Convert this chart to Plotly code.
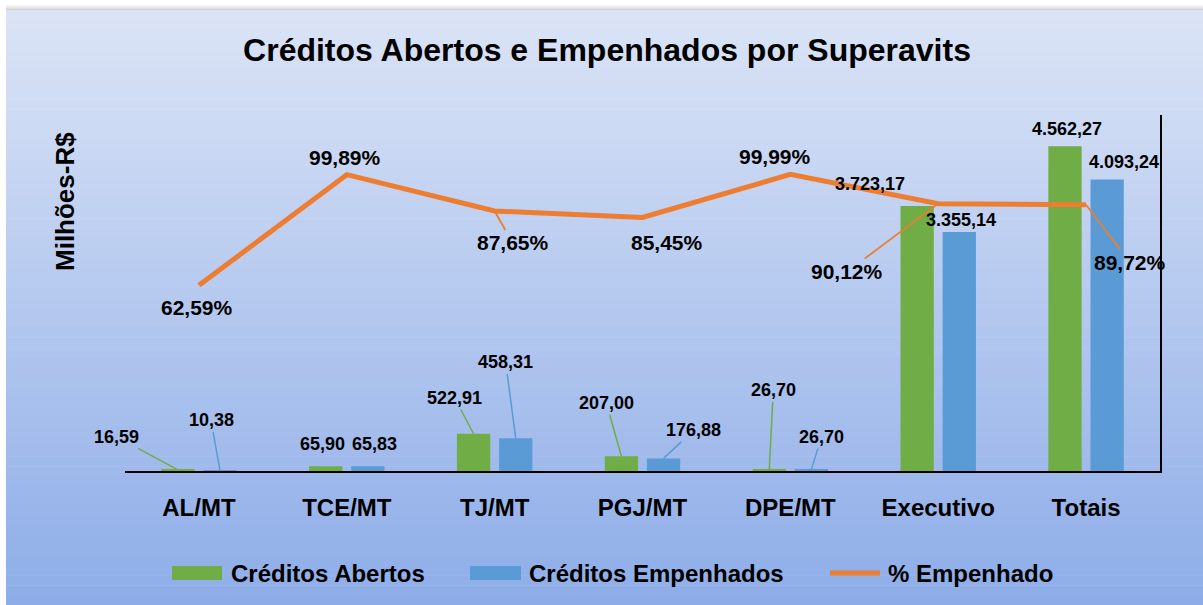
import plotly.graph_objects as go

categories = ["AL/MT", "TCE/MT", "TJ/MT", "PGJ/MT", "DPE/MT", "Executivo", "Totais"]
creditos_abertos = [16.59, 65.90, 522.91, 207.00, 26.70, 3723.17, 4562.27]
creditos_empenhados = [10.38, 65.83, 458.31, 176.88, 26.70, 3355.14, 4093.24]
pct_empenhado = [62.59, 99.89, 87.65, 85.45, 99.99, 90.12, 89.72]

lbl_abertos = ["16,59", "65,90", "522,91", "207,00", "26,70", "3.723,17", "4.562,27"]
lbl_empenhados = ["10,38", "65,83", "458,31", "176,88", "26,70", "3.355,14", "4.093,24"]
lbl_pct = ["62,59%", "99,89%", "87,65%", "85,45%", "99,99%", "90,12%", "89,72%"]

series_names = ["Créditos Abertos", "Créditos Empenhados", "% Empenhado"]

GREEN = "#70AD47"
BLUE = "#5B9BD5"
ORANGE = "#ED7D31"
FONT = "Liberation Sans, Arial, sans-serif"

W, H = 1203, 605
def px(x):
    return x / W
def py(y):
    return 1 - y / H

fig = go.Figure()
fig.add_trace(go.Bar(name=series_names[0], x=categories, y=creditos_abertos,
                     marker=dict(color=GREEN, line=dict(width=0)), showlegend=False))
fig.add_trace(go.Bar(name=series_names[1], x=categories, y=creditos_empenhados,
                     marker=dict(color=BLUE, line=dict(width=0)), showlegend=False))
fig.add_trace(go.Scatter(name=series_names[2], x=categories, y=pct_empenhado, yaxis="y2",
                         mode="lines", line=dict(color=ORANGE, width=5), showlegend=False))

# background gradient
shapes = []
top = (219, 228, 246)
bot = (142, 173, 232)
n = 60
y0p, y1p = 10, 605
for i in range(n):
    t = i / (n - 1)
    c = tuple(int(round(top[k] + (bot[k] - top[k]) * t)) for k in range(3))
    ya = y0p + (y1p - y0p) * i / n
    yb = y0p + (y1p - y0p) * (i + 1) / n + 0.6
    shapes.append(dict(type="rect", xref="paper", yref="paper", x0=px(6), x1=1,
                       y0=py(yb), y1=py(ya), fillcolor="rgb(%d,%d,%d)" % c,
                       line=dict(width=0), layer="below"))
# top shadow
for i, g in enumerate([252, 246, 240, 232, 222, 210]):
    shapes.append(dict(type="rect", xref="paper", yref="paper", x0=px(6), x1=1,
                       y0=py(4 + i + 1), y1=py(4 + i), fillcolor="rgb(%d,%d,%d)" % (g, g, g),
                       line=dict(width=0), layer="below"))

# legend (custom swatches)
legend_items = [(series_names[0], GREEN, "rect", 172, 222, 229),
                (series_names[1], BLUE, "rect", 470, 521, 527),
                (series_names[2], ORANGE, "line", 830, 880, 886)]
annotations = []
for name, col, kind, xa, xb, xt in legend_items:
    if kind == "rect":
        shapes.append(dict(type="rect", xref="paper", yref="paper", x0=px(xa), x1=px(xb),
                           y0=py(580), y1=py(566), fillcolor=col, line=dict(width=0)))
    else:
        shapes.append(dict(type="line", xref="paper", yref="paper", x0=px(xa), x1=px(xb),
                           y0=py(573), y1=py(573), line=dict(color=col, width=5)))
    annotations.append(dict(x=px(xt), y=py(573), xref="paper", yref="paper",
                            xanchor="left", yanchor="middle", showarrow=False,
                            text="<b>%s</b>" % name,
                            font=dict(family=FONT, size=24, color="black")))

off = 0.1425
# bar labels: (ax, ay, show leader)
ab_pos = [(-61, -33, True), (-3, -22, False), (-19, -36, True), (-15, -53, True),
          (4, -79, True), (-47, -22, False), (2, -17, False)]
em_pos = [(-9, -50, True), (7, -22, False), (-10, -76, True), (30, -28, True),
          (10, -32, True), (2, -12, False), (17, -18, False)]
for i in range(len(categories)):
    ax, ay, show = ab_pos[i]
    annotations.append(dict(x=i - off, y=creditos_abertos[i], xref="x", yref="y",
                            text="<b>%s</b>" % lbl_abertos[i], showarrow=True,
                            arrowhead=0, arrowwidth=1.5,
                            arrowcolor=GREEN if show else "rgba(0,0,0,0)",
                            ax=ax, ay=ay, standoff=0,
                            font=dict(family=FONT, size=18, color="black")))
    ax, ay, show = em_pos[i]
    annotations.append(dict(x=i + off, y=creditos_empenhados[i], xref="x", yref="y",
                            text="<b>%s</b>" % lbl_empenhados[i], showarrow=True,
                            arrowhead=0, arrowwidth=1.5,
                            arrowcolor=BLUE if show else "rgba(0,0,0,0)",
                            ax=ax, ay=ay, standoff=0,
                            font=dict(family=FONT, size=18, color="black")))
pct_pos = [(-2, 22, False), (-2, -17, False), (18, 32, True), (24, 25, False),
           (-15, -18, False), (-91, 68, True), (44, 58, True)]
for i in range(len(categories)):
    ax, ay, show = pct_pos[i]
    annotations.append(dict(x=i, y=pct_empenhado[i], xref="x", yref="y2",
                            text="<b>%s</b>" % lbl_pct[i], showarrow=True,
                            arrowhead=0, arrowwidth=1.8,
                            arrowcolor=ORANGE if show else "rgba(0,0,0,0)",
                            ax=ax, ay=ay, standoff=0,
                            font=dict(family=FONT, size=21, color="black")))

annotations.append(dict(x=px(65), y=py(202), xref="paper", yref="paper",
                        xanchor="center", yanchor="middle",
                        text="<b>Milhões-R$</b>", textangle=-90, showarrow=False,
                        font=dict(family=FONT, size=26, color="black")))

fig.update_layout(
    width=W, height=H,
    margin=dict(l=0, r=0, t=0, b=0),
    paper_bgcolor="white",
    plot_bgcolor="rgba(0,0,0,0)",
    barmode="group", bargap=0.43, bargroupgap=0.21,
    title=dict(text="<b>Créditos Abertos e Empenhados por Superavits</b>",
               x=px(607), y=py(50), xanchor="center", yanchor="middle",
               font=dict(family=FONT, size=32, color="black")),
    xaxis=dict(domain=[px(125), px(1160)], range=[-0.5, 6.5], autorange=False,
               showline=True, linecolor="black", linewidth=2,
               ticks="", showgrid=False, ticklabelstandoff=14,
               tickprefix="<b>", ticksuffix="</b>",
               tickfont=dict(family=FONT, size=24, color="black"),
               automargin=False),
    yaxis=dict(domain=[py(471), py(115)], range=[0, 5000], showgrid=False,
               showticklabels=False, zeroline=False, showline=False, automargin=False),
    yaxis2=dict(overlaying="y", side="right", range=[0, 120], showgrid=False,
                showticklabels=False, zeroline=False, showline=True, linecolor="black",
                linewidth=2, ticks="", automargin=False, anchor="x"),
    showlegend=False,
    shapes=shapes,
    annotations=annotations,
)

fig.write_html("out.html", post_script="document.body.style.margin='0';",
               config={"displayModeBar": False})
